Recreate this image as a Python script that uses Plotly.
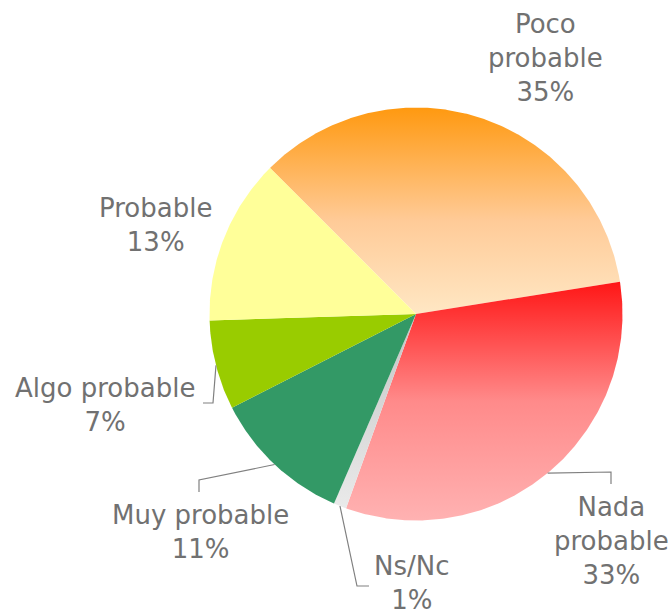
import numpy as np
import plotly.graph_objects as go

# ---- data ----
labels = ["Poco probable", "Nada probable", "Ns/Nc", "Muy probable", "Algo probable", "Probable"]
values = [35, 33, 1, 11, 7, 13]
label_text = ["Poco<br>probable", "Nada<br>probable", "Ns/Nc", "Muy probable", "Algo probable", "Probable"]

# ---- styles ----
gradients = [
    [[0, "#FFE7C4"], [0.45, "#FFCB98"], [1, "#FF9910"]],
    [[0, "#FFB2B2"], [0.5, "#FF8A8A"], [1, "#FF1616"]],
    [[0, "#EAEAEA"], [1, "#C4C4C4"]],
    None, None, None,
]
solid = ["#FFC080", "#FF6060", "#DDDDDD", "#339966", "#99CC00", "#FFFF99"]

W, H = 672, 616
CX, CY, R = 416, 314, 206.5
START = 135.0  # degrees, first slice starts here and goes clockwise


def P(px, py):
    return (px - CX) / R, (CY - py) / R


# label block centres (pixels) and leader elbows
label_pos = {
    "Poco probable": (545, 58),
    "Nada probable": (611, 541),
    "Ns/Nc": (412, 583),
    "Muy probable": (200, 532),
    "Algo probable": (105, 405),
    "Probable": (155, 225),
}
leader = {
    "Nada probable": [(611, 472), (611, 484)],
    "Ns/Nc": [(357, 586), (369, 586)],
    "Muy probable": [(199, 480), (199, 492)],
    "Algo probable": [(213, 403), (203, 403)],
}

fig = go.Figure()
total = sum(values)
a = START
mids = []
for lab, v, g, c in zip(labels, values, gradients, solid):
    span = 360.0 * v / total
    a0, a1 = a, a - span
    th = np.radians(np.linspace(a0, a1, max(8, int(span * 2))))
    xs = np.concatenate([[0], np.cos(th), [0]])
    ys = np.concatenate([[0], np.sin(th), [0]])
    tr = dict(x=xs, y=ys, mode="lines", fill="toself", line=dict(width=0),
              fillcolor=c, hoverinfo="text", text=f"{lab}: {v}%", showlegend=False)
    if g is not None:
        tr["fillgradient"] = dict(type="vertical", colorscale=g)
    fig.add_trace(go.Scatter(**tr))
    mids.append((a0 + a1) / 2)
    a = a1

annotations = []
for lab, v, txt, m in zip(labels, values, label_text, mids):
    lx, ly = P(*label_pos[lab])
    annotations.append(dict(x=lx, y=ly, xref="x", yref="y", text=f"{txt}<br>{v}%",
                            showarrow=False, xanchor="center", yanchor="middle",
                            font=dict(family="DejaVu Sans", size=26, color="#717171")))
    if lab in leader:
        pts = [(np.cos(np.radians(m)), np.sin(np.radians(m)))] + [P(*p) for p in leader[lab]]
        fig.add_trace(go.Scatter(x=[p[0] for p in pts], y=[p[1] for p in pts], mode="lines",
                                 line=dict(color="#808080", width=1.2), hoverinfo="skip",
                                 showlegend=False))

fig.update_layout(
    width=W, height=H, margin=dict(l=0, r=0, t=0, b=0),
    paper_bgcolor="white", plot_bgcolor="white",
    xaxis=dict(range=[(0 - CX) / R, (W - CX) / R], visible=False, fixedrange=True),
    yaxis=dict(range=[(CY - H) / R, CY / R], visible=False, fixedrange=True),
    annotations=annotations,
)
fig.write_html("out.html", config={"displayModeBar": False},
               post_script="document.body.style.margin='0';document.body.style.overflow='hidden';")
